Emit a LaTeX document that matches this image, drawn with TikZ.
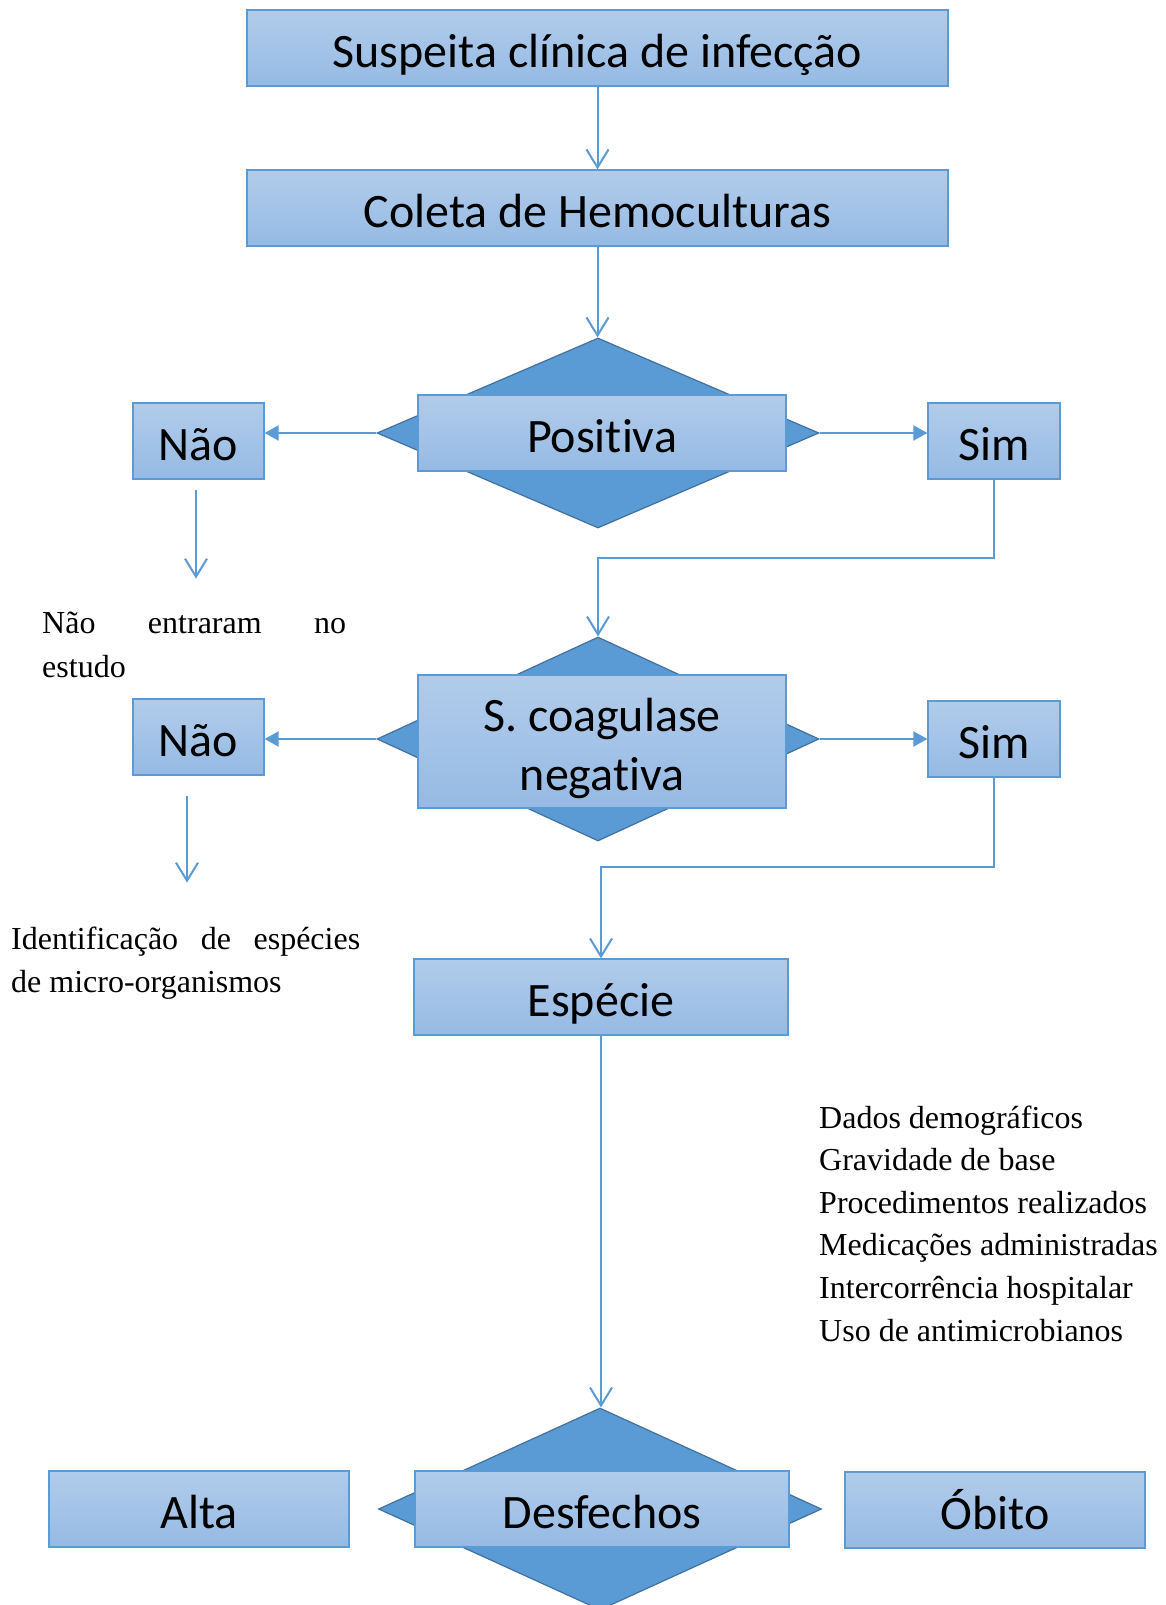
\documentclass[tikz,border=0pt]{standalone}
\usepackage{fontspec}
\setmainfont[Ligatures=NoCommon]{Liberation Serif}
\newfontfamily\boxfont[Ligatures=NoCommon]{Carlito}
\usetikzlibrary{shapes.geometric,arrows.meta,calc}

\definecolor{accent}{RGB}{91,155,213}
\definecolor{dmdborder}{RGB}{65,113,156}
\definecolor{boxtop}{RGB}{177,204,234}
\definecolor{boxbot}{RGB}{150,186,228}

\begin{document}
\begin{tikzpicture}[x=1pt,y=-1pt,
  flowbox/.style={rectangle, draw=accent, line width=1.2pt, top color=boxtop, bottom color=boxbot, inner sep=0pt, font=\boxfont\fontsize{48}{58.6}\selectfont, text height=51.7pt, text depth=12.9pt},
  dmd/.style={diamond, draw=dmdborder, line width=1.2pt, fill=accent, inner sep=0pt},
  openarr/.style={draw=accent, line width=2pt, -{Straight Barb[length=18pt,width=22pt]}},
  fillarr/.style={draw=accent, line width=2pt, -{Triangle[length=14pt,width=15pt]}},
  note/.style={font=\fontsize{32}{43}\selectfont, inner sep=0pt, anchor=base west},
]
\fill[white] (0,0) rectangle (1165,1605);
\useasboundingbox (0,0) rectangle (1165,1605);

% diamonds
\node[dmd, minimum width=442pt, minimum height=190pt] (d1) at (598,433) {};
\node[dmd, minimum width=442pt, minimum height=204pt] (d2) at (598,739) {};
\node[dmd, minimum width=443pt, minimum height=202pt] (d3) at (600,1509) {};

% boxes
\node[flowbox, minimum width=701pt, minimum height=76pt] (top) at (597.5,48) {Suspeita clínica de infecção};
\node[flowbox, minimum width=701pt, minimum height=76pt] (col) at (597.5,208) {Coleta de Hemoculturas};
\node[flowbox, minimum width=368pt, minimum height=76pt] (pos) at (602,433) {Positiva};
\node[flowbox, minimum width=131pt, minimum height=76pt] (nao1) at (198.5,441) {Não};
\node[flowbox, minimum width=132pt, minimum height=76pt] (sim1) at (994,441) {Sim};
\node[flowbox, minimum width=368pt, minimum height=133pt, text height=110.3pt] (scn) at (602,741.5)
  {\renewcommand{\arraystretch}{1}\begin{tabular}[b]{@{}c@{}}S. coagulase\\negativa\end{tabular}};
\node[flowbox, minimum width=131pt, minimum height=76pt] (nao2) at (198.5,737) {Não};
\node[flowbox, minimum width=132pt, minimum height=76pt] (sim2) at (994,739) {Sim};
\node[flowbox, minimum width=374pt, minimum height=76pt] (esp) at (601,997) {Espécie};
\node[flowbox, minimum width=374pt, minimum height=76pt] (desf) at (602,1509) {Desfechos};
\node[flowbox, minimum width=300pt, minimum height=76pt] (alta) at (199,1509) {Alta};
\node[flowbox, minimum width=300pt, minimum height=76pt] (obito) at (995,1510) {Óbito};

% notes
\node[note] (ne1) at (42,633) {\makebox[304pt][s]{Não entraram no}};
\node[note] (ne2) at (42,677) {estudo};
\node[note] (id1) at (11,949) {\makebox[349pt][s]{Identificação de espécies}};
\node[note] (id2) at (11,992) {de micro-organismos};
\node[note] (l1) at (819,1128) {Dados demográficos};
\node[note] (l2) at (819,1170.6) {Gravidade de base};
\node[note] (l3) at (819,1213.2) {Procedimentos realizados};
\node[note] (l4) at (819,1255.8) {Medicações administradas};
\node[note] (l5) at (819,1298.4) {Intercorrência hospitalar};
\node[note] (l6) at (819,1341) {Uso de antimicrobianos};

% connectors
\draw[openarr] (top.south) -- (col.north);
\draw[openarr] (col.south) -- (col.south |- d1.north);
\draw[fillarr] (d1.west) -- (d1.west -| nao1.east);
\draw[fillarr] (d1.east) -- (d1.east -| sim1.west);
\coordinate (k1) at (598,558);
\draw[openarr] (sim1.south) |- (k1) -- (d2.north);
\draw[openarr] ([xshift=-2.5pt,yshift=-10pt]nao1.south) -- ++(0,89);
\draw[fillarr] (d2.west) -- (d2.west -| nao2.east);
\draw[fillarr] (d2.east) -- (d2.east -| sim2.west);
\coordinate (k2) at (601,867);
\draw[openarr] (sim2.south) |- (k2) -- (esp.north);
\draw[openarr] ([xshift=-11.5pt,yshift=-20pt]nao2.south) -- ++(0,87);
\draw[openarr] (esp.south) -- (esp.south |- d3.north);
\end{tikzpicture}
\end{document}
